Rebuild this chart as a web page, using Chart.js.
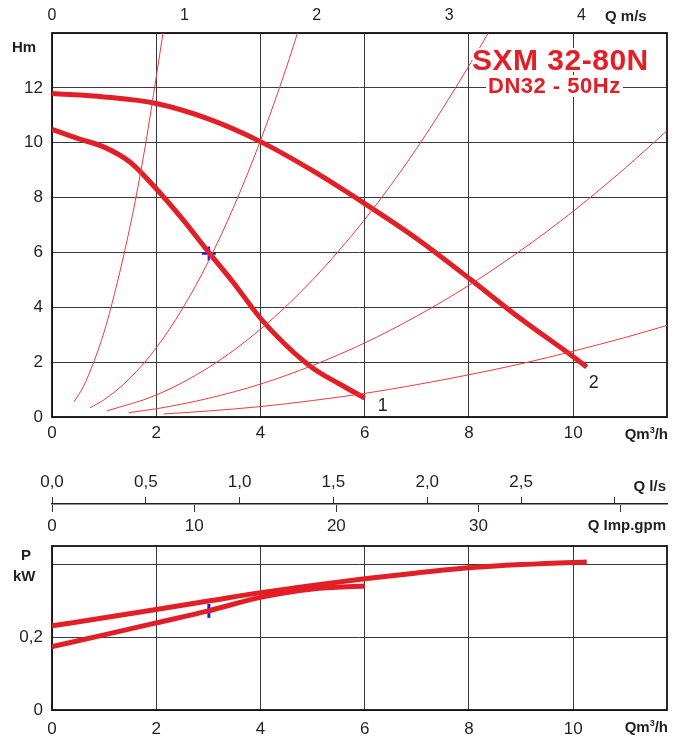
<!DOCTYPE html>
<html><head><meta charset="utf-8">
<script src="https://cdn.jsdelivr.net/npm/chart.js@4/dist/chart.umd.min.js"></script>
<style>
html,body{margin:0;padding:0;background:#fff;}
body{width:677px;height:736px;position:relative;overflow:hidden;font-family:"Liberation Sans",Arial,sans-serif;}
.wrap{position:absolute;left:0;width:677px;}
.lbl{position:absolute;font-weight:bold;color:#231f20;white-space:nowrap;line-height:1;font-size:15px;}
.ttl{position:absolute;font-weight:bold;color:#e41e26;white-space:nowrap;line-height:1;
 text-shadow:2px 0 0 #fff,-2px 0 0 #fff,0 2px 0 #fff,0 -2px 0 #fff,2px 2px 0 #fff,-2px -2px 0 #fff,2px -2px 0 #fff,-2px 2px 0 #fff;}
</style></head><body>
<div class="wrap" style="top:0;height:450px;"><canvas id="head" width="677" height="450"></canvas></div>
<div class="wrap" style="top:458px;height:80px;"><canvas id="flow" width="677" height="80"></canvas></div>
<div class="wrap" style="top:536px;height:200px;"><canvas id="power" width="677" height="200"></canvas></div>

<div class="lbl" style="left:605px;top:8px;">Q m/s</div>
<div class="lbl" style="left:12px;top:39px;">Hm</div>
<div class="lbl" style="right:9px;top:426px;">Qm<sup style="font-size:9px;vertical-align:6px;">3</sup>/h</div>
<div class="ttl" style="left:472px;top:45px;font-size:30px;letter-spacing:0.5px;">SXM 32-80N</div>
<div class="ttl" style="left:486px;top:75px;font-size:22px;letter-spacing:0.5px;background:#fff;padding:0 2px;">DN32 - 50Hz</div>
<div class="lbl" style="right:11px;top:478px;">Q l/s</div>
<div class="lbl" style="right:11px;top:517px;">Q Imp.gpm</div>
<div class="lbl" style="left:21px;top:547px;">P</div>
<div class="lbl" style="left:13px;top:568px;">kW</div>
<div class="lbl" style="right:9px;top:719px;">Qm<sup style="font-size:9px;vertical-align:6px;">3</sup>/h</div>

<script>
// ---------- axis extents / unit conversions ----------
const Q_MAX = 11.8;            // m3/h at right edge of plots
const H_MAX = 14;              // m
const P_MAX = 0.45;            // kW
const M3H_PER_MS = 2.54;       // flow velocity scale (top axis)
const M3H_PER_LS = 3.6;
const M3H_PER_IMPGPM = 0.2728;

// ---------- pump curves (head) ----------
const q1 = [0, 0.5, 1, 1.5, 2, 2.5, 3, 3.5, 4, 4.5, 5, 5.5, 6];
const h1 = [10.49, 10.15, 9.84, 9.29, 8.32, 7.22, 6.02, 4.85, 3.6, 2.6, 1.79, 1.22, 0.69];
const q2 = [0, 1, 2, 3, 4, 5, 6, 7, 8, 9, 10, 10.26];
const h2 = [11.79, 11.67, 11.43, 10.87, 10.04, 8.98, 7.78, 6.5, 5.06, 3.57, 2.2, 1.82];

// ---------- system curves (thin) ----------
const sysAq = [0.42, 0.6, 0.8, 1.0, 1.2, 1.4, 1.6, 1.8, 2.0, 2.13];
const sysAh = [0.55, 1.1, 2.0, 3.1, 4.5, 6.1, 7.9, 10.0, 12.4, 14.0];
const sysBq = [0.73, 1, 1.5, 2, 2.5, 3, 3.5, 4, 4.5, 4.71];
const sysBh = [0.34, 0.63, 1.42, 2.52, 3.94, 5.67, 7.72, 10.08, 12.76, 14.0];
const sysCq = [1.05, 2, 3, 4, 5, 6, 7, 8, 8.37];
const sysCh = [0.22, 0.8, 1.8, 3.2, 5.0, 7.2, 9.8, 12.8, 14.0];
const sysDq = [1.47, 2, 3, 4, 5, 6, 7, 8, 9, 10, 11, 11.8];
const sysDh = [0.16, 0.3, 0.68, 1.2, 1.88, 2.7, 3.68, 4.8, 6.08, 7.5, 9.08, 10.44];
const sysEq = [2.14, 3, 4, 5, 6, 7, 8, 9, 10, 11, 11.8];
const sysEh = [0.11, 0.22, 0.38, 0.6, 0.86, 1.18, 1.54, 1.94, 2.4, 2.9, 3.34];

// ---------- power curves ----------
const pq1 = [0, 1, 2, 3, 4, 5, 6];
const p1  = [0.174, 0.206, 0.239, 0.272, 0.309, 0.332, 0.340];
const pq2 = [0, 1, 2, 3, 4, 5, 6, 7, 8, 9, 10, 10.26];
const p2  = [0.231, 0.253, 0.276, 0.299, 0.322, 0.342, 0.36, 0.376, 0.39, 0.399, 0.405, 0.406];

// ---------- duty point ----------
const dutyQ = [3.01];
const dutyH = [5.96];
const dutyP = [0.272];

// ---------- curve names ----------
const curveNames = ['1', '2'];

// ---------- styling ----------
const RED = '#e21f26';
const THIN = '#f0393c';
const BLUE = '#1a1aff';
const GRID = '#3a3a3a';
const TXT = '#231f20';
const TICKFONT = {family: '"Liberation Sans", Arial, sans-serif', size: 17};
Chart.defaults.font.family = '"Liberation Sans", Arial, sans-serif';

const pts = (xs, ys) => xs.map((x, i) => ({x: x, y: ys[i]}));
const heavy = (xs, ys) => ({data: pts(xs, ys), borderColor: RED, borderWidth: 5, pointRadius: 0, cubicInterpolationMode: 'monotone', fill: false});
const thin = (xs, ys) => ({data: pts(xs, ys), borderColor: THIN, borderWidth: 1, pointRadius: 0, cubicInterpolationMode: 'monotone', fill: false});
const comma = v => (Math.round(v * 10) / 10).toFixed(1).replace('.', ',');

const framePlugin = {
  id: 'frame',
  beforeDatasetsDraw(chart, args, opts) {
    if (!opts || !opts.on) return;
    const a = chart.chartArea, c = chart.ctx;
    c.save(); c.strokeStyle = '#111'; c.lineWidth = 1.8;
    c.strokeRect(a.left, a.top, a.right - a.left, a.bottom - a.top);
    c.restore();
  }
};
const endLabelPlugin = {
  id: 'endLabels',
  afterDatasetsDraw(chart, args, opts) {
    if (!opts || !opts.items) return;
    const c = chart.ctx; c.save();
    c.font = '18px "Liberation Sans", Arial, sans-serif'; c.fillStyle = TXT;
    c.textAlign = 'center'; c.textBaseline = 'middle';
    opts.items.forEach(it => {
      const meta = chart.getDatasetMeta(it.ds);
      const p = meta.data[meta.data.length - 1];
      c.fillText(it.text, p.x + it.dx, p.y + it.dy);
    });
    c.restore();
  }
};
Chart.register(framePlugin, endLabelPlugin);

const xGrid = {color: GRID, lineWidth: 1, drawTicks: false};

// ================= HEAD CHART =================
new Chart(document.getElementById('head'), {
  type: 'line',
  data: {datasets: [
    thin(sysAq, sysAh), thin(sysBq, sysBh), thin(sysCq, sysCh), thin(sysDq, sysDh), thin(sysEq, sysEh),
    heavy(q1, h1), heavy(q2, h2),
    {data: pts(dutyQ, dutyH), showLine: false, pointStyle: 'cross', pointRadius: 7, pointBorderColor: BLUE, pointBorderWidth: 2.5, borderColor: BLUE}
  ]},
  options: {
    responsive: false, animation: false, events: [],
    layout: {padding: {right: 10, left: 0, top: 0, bottom: 0}},
    plugins: {legend: {display: false}, tooltip: {enabled: false},
      frame: {on: true},
      endLabels: {items: [{ds: 5, text: curveNames[0], dx: 18, dy: 8}, {ds: 6, text: curveNames[1], dx: 7, dy: 16}]}},
    scales: {
      x: {type: 'linear', position: 'bottom', min: 0, max: Q_MAX,
        ticks: {stepSize: 2, includeBounds: false, font: TICKFONT, color: TXT, padding: 6, maxRotation: 0},
        grid: xGrid, border: {display: false},
        afterFit(s) { s.height = 33; }},
      v: {type: 'linear', position: 'top', min: 0, max: Q_MAX / M3H_PER_MS,
        ticks: {stepSize: 1, includeBounds: false, font: {family: TICKFONT.family, size: 16}, color: TXT, padding: 8, maxRotation: 0},
        grid: {display: false, drawTicks: false}, border: {display: false},
        afterFit(s) { s.height = 33; }},
      y: {type: 'linear', min: 0, max: H_MAX,
        ticks: {stepSize: 2, includeBounds: false, font: TICKFONT, color: TXT, padding: 9,
          callback: v => (v >= H_MAX ? '' : String(v))},
        grid: xGrid, border: {display: false},
        afterFit(s) { s.width = 52; }}
    }
  }
});

// ================= FLOW UNIT AXES =================
new Chart(document.getElementById('flow'), {
  type: 'line',
  data: {datasets: []},
  options: {
    responsive: false, animation: false, events: [],
    layout: {padding: {left: 52, right: 10, top: 0, bottom: 0}},
    plugins: {legend: {display: false}, tooltip: {enabled: false}},
    scales: {
      ls: {type: 'linear', position: 'top', min: 0, max: Q_MAX / M3H_PER_LS,
        ticks: {stepSize: 0.5, includeBounds: false, font: TICKFONT, color: TXT, padding: 4, maxRotation: 0,
          callback: v => (v >= 2.99 ? '' : comma(v))},
        grid: {display: true, drawOnChartArea: false, drawTicks: true, tickLength: 7, color: '#333', lineWidth: 1},
        border: {display: true, color: '#222', width: 1.5},
        afterFit(s) { s.height = 46; }},
      gpm: {type: 'linear', position: 'bottom', min: 0, max: Q_MAX / M3H_PER_IMPGPM,
        ticks: {stepSize: 10, includeBounds: false, font: TICKFONT, color: TXT, padding: 4, maxRotation: 0,
          callback: v => (v >= 39 ? '' : String(v))},
        grid: {display: true, drawOnChartArea: false, drawTicks: true, tickLength: 7, color: '#333', lineWidth: 1},
        border: {display: false},
        afterFit(s) { s.height = 33; }},
      y: {display: false, min: 0, max: 1}
    }
  }
});

// ================= POWER CHART =================
new Chart(document.getElementById('power'), {
  type: 'line',
  data: {datasets: [
    heavy(pq1, p1), heavy(pq2, p2),
    {data: pts(dutyQ, dutyP), showLine: false, pointStyle: 'line', rotation: 90, pointRadius: 7, pointBorderColor: BLUE, pointBorderWidth: 3, borderColor: BLUE}
  ]},
  options: {
    responsive: false, animation: false, events: [],
    layout: {padding: {right: 10, left: 0, top: 9, bottom: 0}},
    plugins: {legend: {display: false}, tooltip: {enabled: false}, frame: {on: true}},
    scales: {
      x: {type: 'linear', position: 'bottom', min: 0, max: Q_MAX,
        ticks: {stepSize: 2, includeBounds: false, font: TICKFONT, color: TXT, padding: 9, maxRotation: 0},
        grid: xGrid, border: {display: false},
        afterFit(s) { s.height = 26; }},
      y: {type: 'linear', min: 0, max: P_MAX,
        ticks: {stepSize: 0.2, includeBounds: false, font: TICKFONT, color: TXT, padding: 9,
          callback: v => (v === 0 ? '0' : (v > 0.3 ? '' : comma(v)))},
        grid: xGrid, border: {display: false},
        afterFit(s) { s.width = 52; s.paddingTop = 0; s.paddingBottom = 0; }}
    }
  }
});
</script>
</body></html>
